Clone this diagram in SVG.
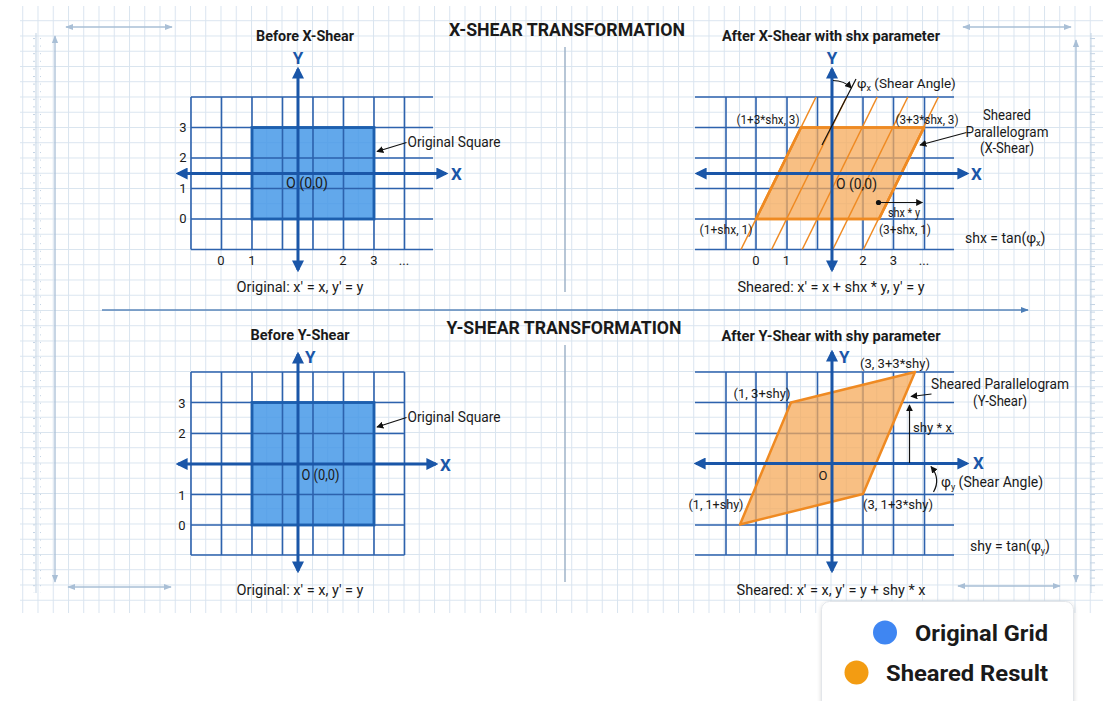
<svg xmlns="http://www.w3.org/2000/svg" width="1115" height="701" viewBox="0 0 1115 701">
<defs>
<style>
.t{font-family:Roboto,"Liberation Sans",sans-serif;fill:#1a1a1a}
.lb{font-size:14px}
.ti{font-size:15px;font-weight:bold}
.mt{font-size:18px;font-weight:bold}
.nm{font-size:13px}
.fm{font-size:15.5px}
.ax{font-family:Roboto,"Liberation Sans",sans-serif;font-size:17px;font-weight:bold;fill:#1a56a8}
.grid{stroke:#2d62ad;stroke-width:1.6;fill:none}
.axis{stroke:#1a56a8;stroke-width:3;fill:none;marker-start:url(#axArr);marker-end:url(#axArr)}
.ptr{stroke:#111;stroke-width:1.2;fill:none;marker-end:url(#blkArr)}
.bgd{stroke:#a9bfd6;stroke-width:1.3;fill:none;marker-start:url(#bgArr);marker-end:url(#bgArr)}
.sq{fill:#3f95e6;fill-opacity:0.82;stroke:#1d5fae;stroke-width:2.5}
.pg{fill:#f6a95a;fill-opacity:0.75;stroke:#ef8a22;stroke-width:2.5;stroke-linejoin:round}
.sl{stroke:#ef8a22;stroke-width:1.5}
</style>
<pattern id="paper" patternUnits="userSpaceOnUse" x="7" y="5" width="15.25" height="15.25">
<path d="M0.5 0 V15.25 M0 0.5 H15.25" stroke="#d9e4ef" stroke-width="1" fill="none"/>
</pattern>
<pattern id="ticks" patternUnits="userSpaceOnUse" x="0" y="0" width="10" height="7.6">
<path d="M0 0.5 H5" stroke="#c3d3e3" stroke-width="1"/>
</pattern>
<marker id="axArr" viewBox="0 0 10 10" refX="8" refY="5" markerWidth="12" markerHeight="12" markerUnits="userSpaceOnUse" orient="auto-start-reverse">
<path d="M0 0 L10 5 L0 10 z" fill="#1a56a8"/>
</marker>
<marker id="blkArr" viewBox="0 0 10 10" refX="9" refY="5" markerWidth="7" markerHeight="7" markerUnits="userSpaceOnUse" orient="auto">
<path d="M0 0 L10 5 L0 10 z" fill="#111"/>
</marker>
<marker id="bgArr" viewBox="0 0 10 10" refX="9" refY="5" markerWidth="8" markerHeight="8" markerUnits="userSpaceOnUse" orient="auto-start-reverse">
<path d="M0 1 L10 5 L0 9 z" fill="#a9bfd6"/>
</marker>
<marker id="divArr" viewBox="0 0 10 10" refX="9" refY="5" markerWidth="8" markerHeight="8" markerUnits="userSpaceOnUse" orient="auto">
<path d="M0 1 L10 5 L0 9 z" fill="#4d7fb8"/>
</marker>
<filter id="shadow" x="-10%" y="-10%" width="120%" height="130%">
<feDropShadow dx="0" dy="1" stdDeviation="2" flood-color="#000" flood-opacity="0.15"/>
</filter>
</defs>

<rect width="1115" height="701" fill="#ffffff"/>
<g id="background">
<rect x="20" y="6" width="1083" height="607" fill="url(#paper)"/>
<rect x="33" y="33" width="8" height="560" fill="url(#ticks)"/>
<rect x="1088" y="33" width="8" height="560" fill="url(#ticks)"/>
<line x1="36" y1="33" x2="36" y2="593" stroke="#c3d3e3" stroke-width="1"/>
<line x1="1091" y1="33" x2="1091" y2="593" stroke="#c3d3e3" stroke-width="1"/>
<line class="bgd" x1="66" y1="27" x2="172" y2="27"/>
<line class="bgd" x1="55" y1="36" x2="55" y2="582"/>
<line class="bgd" x1="68" y1="587" x2="171" y2="587"/>
<line class="bgd" x1="963" y1="27" x2="1071" y2="27"/>
<line class="bgd" x1="1076" y1="40" x2="1076" y2="582"/>
<line class="bgd" x1="958" y1="586" x2="1060" y2="586"/>
<line x1="565" y1="47" x2="565" y2="292" stroke="#9fb3c8" stroke-width="1.5"/>
<line x1="565" y1="345" x2="565" y2="582" stroke="#9fb3c8" stroke-width="1.5"/>
<line x1="102" y1="310" x2="1028" y2="310" stroke="#5a86ba" stroke-width="1.5" marker-end="url(#divArr)"/>
<text class="t mt" x="567" y="36" text-anchor="middle" textLength="236" lengthAdjust="spacingAndGlyphs">X-SHEAR TRANSFORMATION</text>
<text class="t mt" x="564" y="334" text-anchor="middle" textLength="235" lengthAdjust="spacingAndGlyphs">Y-SHEAR TRANSFORMATION</text>
</g>

<g id="panel-before-x">
<text class="t ti" x="305" y="41" text-anchor="middle" textLength="98" lengthAdjust="spacingAndGlyphs">Before X-Shear</text>
<rect class="sq" x="252" y="127.5" width="122" height="91.5"/>
<path class="grid" d="M191 97V249.5M221.5 97V249.5M252 97V249.5M282.5 97V249.5M313 97V249.5M343.5 97V249.5M374 97V249.5M404.5 97V249.5M191 97H433M191 127.5H433M191 158H433M191 188.5H433M191 219H433M191 249.5H433"/>
<rect x="252" y="127.5" width="122" height="91.5" fill="none" stroke="#1d5fae" stroke-width="2.5"/>
<line class="axis" x1="178" y1="173.5" x2="446" y2="173.5"/>
<line class="axis" x1="298" y1="270" x2="298" y2="69"/>
<text class="ax" x="298" y="64" text-anchor="middle">Y</text>
<text class="ax" x="451" y="180" font-size="18">X</text>
<g class="t nm" text-anchor="middle">
<text x="183" y="131.5">3</text><text x="183" y="162">2</text><text x="183" y="192.5">1</text><text x="183" y="223">0</text>
<text x="221" y="264.5">0</text><text x="252" y="264.5">1</text><text x="343" y="264.5">2</text><text x="374" y="264.5">3</text><text x="404" y="264.5">...</text>
</g>
<text class="t lb" x="286" y="188" textLength="42" lengthAdjust="spacingAndGlyphs">O (0,0)</text>
<text class="t lb" x="407.5" y="146.5" textLength="93" lengthAdjust="spacingAndGlyphs">Original Square</text>
<text class="t fm" x="300" y="292" text-anchor="middle" textLength="127" lengthAdjust="spacingAndGlyphs">Original: x' = x, y' = y</text>
</g>

<g id="panel-after-x">
<text class="t ti" x="831" y="41" text-anchor="middle" textLength="218" lengthAdjust="spacingAndGlyphs">After X-Shear with shx parameter</text>
<path class="grid" d="M726 97V249.5M756 97V249.5M787 97V249.5M817.5 97V249.5M863 97V249.5M893.5 97V249.5M924.5 97V249.5M695 97H954M695 127.5H954M695 158H954M695 188.5H954M695 219H954M695 249.5H954"/>
<polygon class="pg" points="756,219 879,219 924,127.5 801,127.5"/>
<g class="sl">
<line x1="741" y1="249.5" x2="816" y2="97"/>
<line x1="771.6" y1="249.5" x2="846.6" y2="97"/>
<line x1="802.2" y1="249.5" x2="877.2" y2="97"/>
<line x1="832.8" y1="249.5" x2="907.8" y2="97"/>
<line x1="863.4" y1="249.5" x2="938.4" y2="97"/>
</g>
<polygon points="756,219 879,219 924,127.5 801,127.5" fill="none" stroke="#ef8a22" stroke-width="2.5" stroke-linejoin="round"/>
<line class="axis" x1="697" y1="173.5" x2="967" y2="173.5"/>
<line class="axis" x1="832" y1="270" x2="832" y2="69"/>
<text class="ax" x="832" y="64" text-anchor="middle">Y</text>
<text class="ax" x="971" y="180" font-size="18">X</text>
<g class="t nm" text-anchor="middle">
<text x="756" y="264.5">0</text><text x="786.5" y="264.5">1</text><text x="863" y="264.5">2</text><text x="893.5" y="264.5">3</text><text x="924" y="264.5">...</text>
</g>
<line x1="822" y1="145" x2="856" y2="79" stroke="#111" stroke-width="1.2"/>
<text class="t" x="857" y="88" font-size="13.5">φ<tspan font-size="9" dy="3">x</tspan><tspan dy="-3"> (Shear Angle)</tspan></text>
<text class="t nm" x="768" y="124" text-anchor="middle" textLength="63" lengthAdjust="spacingAndGlyphs">(1+3*shx, 3)</text>
<text class="t nm" x="927" y="124" text-anchor="middle" textLength="63" lengthAdjust="spacingAndGlyphs">(3+3*shx, 3)</text>
<g class="t lb" text-anchor="middle" font-size="14.5">
<text x="1007" y="120" textLength="48" lengthAdjust="spacingAndGlyphs">Sheared</text>
<text x="1007" y="136.5" textLength="83" lengthAdjust="spacingAndGlyphs">Parallelogram</text>
<text x="1007" y="153" textLength="54" lengthAdjust="spacingAndGlyphs">(X-Shear)</text>
</g>
<text class="t lb" x="836" y="189" textLength="41" lengthAdjust="spacingAndGlyphs">O (0,0)</text>
<circle cx="878.5" cy="202.5" r="2.6" fill="#111"/>
<text class="t nm" x="904" y="217" text-anchor="middle" textLength="32" lengthAdjust="spacingAndGlyphs">shx * y</text>
<text class="t nm" x="726" y="234" text-anchor="middle" textLength="53" lengthAdjust="spacingAndGlyphs">(1+shx, 1)</text>
<text class="t nm" x="905" y="234" text-anchor="middle" textLength="52" lengthAdjust="spacingAndGlyphs">(3+shx, 1)</text>
<text class="t" x="965" y="243" font-size="14">shx = tan(φ<tspan font-size="9" dy="3">x</tspan><tspan dy="-3">)</tspan></text>
<text class="t fm" x="831" y="292" text-anchor="middle" textLength="187" lengthAdjust="spacingAndGlyphs">Sheared: x' = x + shx * y, y' = y</text>
</g>

<g id="panel-before-y">
<text class="t ti" x="300" y="340" text-anchor="middle" textLength="99" lengthAdjust="spacingAndGlyphs">Before Y-Shear</text>
<rect class="sq" x="252" y="402.5" width="122" height="122.5"/>
<path class="grid" d="M191 372V555M221.5 372V555M252 372V555M282.5 372V555M313 372V555M343.5 372V555M374 372V555M404.5 372V555M191 372H404.5M191 402.5H404.5M191 433.5H404.5M191 494.5H404.5M191 525H404.5M191 555H404.5"/>
<rect x="252" y="402.5" width="122" height="122.5" fill="none" stroke="#1d5fae" stroke-width="2.5"/>
<line class="axis" x1="178" y1="464" x2="436" y2="464"/>
<line class="axis" x1="298" y1="571" x2="298" y2="354"/>
<text class="ax" x="305" y="363">Y</text>
<text class="ax" x="440" y="471" font-size="18">X</text>
<g class="t nm" text-anchor="middle">
<text x="182" y="407.5">3</text><text x="182" y="438">2</text><text x="182" y="499.5">1</text><text x="182" y="529.5">0</text>
</g>
<text class="t lb" x="301.5" y="480" textLength="38" lengthAdjust="spacingAndGlyphs">O (0,0)</text>
<text class="t lb" x="407.5" y="421.5" textLength="93" lengthAdjust="spacingAndGlyphs">Original Square</text>
<text class="t fm" x="300" y="595" text-anchor="middle" textLength="127" lengthAdjust="spacingAndGlyphs">Original: x' = x, y' = y</text>
</g>

<g id="panel-after-y">
<text class="t ti" x="831" y="340.5" text-anchor="middle" textLength="219" lengthAdjust="spacingAndGlyphs">After Y-Shear with shy parameter</text>
<path class="grid" d="M726 372V555M756 372V555M787 372V555M817.5 372V555M863 372V555M893.5 372V555M924.5 372V555M695 372H954M695 402.5H954M695 433.5H954M695 494.5H954M695 525H954M695 555H954"/>
<polygon class="pg" points="740,524.5 863,494 915,372 791,402.5"/>
<line class="axis" x1="696" y1="463.5" x2="967" y2="463.5"/>
<line class="axis" x1="832" y1="571" x2="832" y2="352"/>
<text class="ax" x="839" y="363">Y</text>
<text class="ax" x="973" y="469" font-size="18">X</text>
<text class="t nm" x="895" y="368" text-anchor="middle" textLength="70" lengthAdjust="spacingAndGlyphs">(3, 3+3*shy)</text>
<text class="t nm" x="762" y="398" text-anchor="middle" textLength="57" lengthAdjust="spacingAndGlyphs">(1, 3+shy)</text>
<text class="t lb" x="1000" y="389" text-anchor="middle" font-size="14.5" textLength="138" lengthAdjust="spacingAndGlyphs">Sheared Parallelogram</text>
<text class="t lb" x="1000" y="405.5" text-anchor="middle" font-size="14.5" textLength="54" lengthAdjust="spacingAndGlyphs">(Y-Shear)</text>
<text class="t nm" x="913" y="432" textLength="39" lengthAdjust="spacingAndGlyphs">shy * x</text>
<text class="t nm" x="823" y="480" text-anchor="middle">O</text>
<text class="t" x="941" y="487" font-size="14">φ<tspan font-size="9" dy="3">y</tspan><tspan dy="-3"> (Shear Angle)</tspan></text>
<text class="t nm" x="716" y="509" text-anchor="middle" textLength="55" lengthAdjust="spacingAndGlyphs">(1, 1+shy)</text>
<text class="t nm" x="898" y="509" text-anchor="middle" textLength="70" lengthAdjust="spacingAndGlyphs">(3, 1+3*shy)</text>
<text class="t" x="970" y="551" font-size="14">shy = tan(φ<tspan font-size="9" dy="3">y</tspan><tspan dy="-3">)</tspan></text>
<text class="t fm" x="831" y="595" text-anchor="middle" textLength="189" lengthAdjust="spacingAndGlyphs">Sheared: x' = x, y' = y + shy * x</text>
</g>

<g id="connectors">
<line class="ptr" x1="406.5" y1="142.5" x2="377" y2="151.5"/>
<line class="ptr" x1="406.5" y1="417.5" x2="377" y2="427"/>
<line class="ptr" x1="966.5" y1="132.5" x2="920" y2="145"/>
<line class="ptr" x1="931.5" y1="394" x2="911" y2="396.5"/>
<line class="ptr" x1="881" y1="202.5" x2="922.5" y2="202.5"/>
<line class="ptr" x1="909.5" y1="463" x2="909.5" y2="405"/>
<path class="ptr" d="M833 80.5 Q844 80.5 851.5 88"/>
<path class="ptr" d="M933.5 492 Q941 479 931 466.5"/>
</g>

<g id="legend">
<rect x="821.5" y="601.5" width="252" height="110" rx="8" fill="#ffffff" stroke="#e3e6ea" stroke-width="1" filter="url(#shadow)"/>
<circle cx="885" cy="632.5" r="12" fill="#3f86f2"/>
<text class="t" x="915" y="640.5" font-size="22" font-weight="bold" textLength="133" lengthAdjust="spacingAndGlyphs">Original Grid</text>
<circle cx="856.5" cy="672.5" r="12" fill="#f39c12"/>
<text class="t" x="886" y="680.5" font-size="22" font-weight="bold" textLength="162" lengthAdjust="spacingAndGlyphs">Sheared Result</text>
</g>
</svg>
